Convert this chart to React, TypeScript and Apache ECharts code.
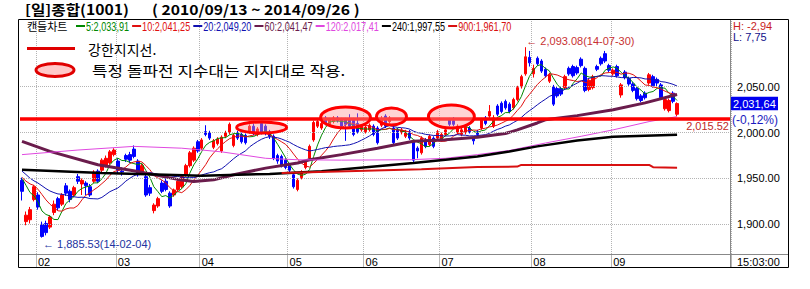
import React, { useEffect, useRef } from 'react';
import * as echarts from 'echarts';

// ---------------- data ----------------
const titleMain = '[일]종합(1001)';
const titleRange = '( 2010/09/13 ~ 2014/09/26 )';

const janDays = [24, 27, 28, 29];
const febDays = [3, 4, 5, 6, 7, 10, 11, 12, 13, 14, 17, 18, 19, 20, 21, 24, 25, 26, 27, 28];
const marDays = [3, 4, 5, 6, 7, 10, 11, 12, 13, 14, 17, 18, 19, 20, 21, 24, 25, 26, 27, 28, 31];
const aprDays = [1, 2, 3, 4, 7, 8, 9, 10, 11, 14, 15, 16, 17, 18, 21, 22, 23, 24, 25, 28, 29, 30];
const mayDays = [2, 7, 8, 9, 12, 13, 14, 15, 16, 19, 20, 21, 22, 23, 26, 27, 28, 29, 30];
const junDays = [2, 3, 5, 9, 10, 11, 12, 13, 16, 17, 18, 19, 20, 23, 24, 25, 26, 27, 30];
const julDays = [1, 2, 3, 4, 7, 8, 9, 10, 11, 14, 15, 16, 17, 18, 21, 22, 23, 24, 25, 28, 29, 30, 31];
const augDays = [1, 4, 5, 6, 7, 8, 11, 12, 13, 14, 18, 19, 20, 21, 22, 25, 26, 27, 28, 29];
const sepDays = [1, 2, 3, 4, 5, 11, 12, 15, 16, 17, 18, 19, 22, 23, 24, 25, 26];

// [open, close, low, high]
const janCandles = [[1948, 1936, 1926, 1951], [1903, 1910, 1899, 1914], [1905, 1916, 1901, 1919], [1927, 1941, 1925, 1943]];
const febCandles = [
  [1932, 1919, 1916, 1935], [1900, 1886.85, 1885.53, 1903], [1901, 1891, 1888, 1904], [1897, 1908, 1895, 1910],
  [1913, 1922, 1910, 1926], [1928, 1918, 1915, 1930], [1922, 1932, 1920, 1934], [1942, 1934, 1931, 1945],
  [1936, 1927, 1924, 1938], [1932, 1940, 1930, 1942], [1952, 1947, 1944, 1955], [1944, 1948, 1932, 1950],
  [1945, 1942, 1932, 1947], [1941, 1932, 1930, 1944], [1947, 1957, 1945, 1959], [1958, 1947, 1945, 1960],
  [1959, 1970, 1957, 1972], [1964, 1972, 1962, 1975], [1967, 1979, 1965, 1981], [1976, 1981, 1974, 1983],
];
const marCandles = [
  [1969, 1959, 1955, 1972], [1958, 1957, 1953, 1962], [1975, 1971, 1968, 1977], [1976, 1970, 1967, 1979],
  [1982, 1974, 1972, 1986], [1969, 1954, 1952, 1971], [1957, 1964, 1955, 1966], [1952, 1932, 1930, 1954],
  [1940, 1934, 1931, 1943], [1915, 1921, 1912, 1923], [1920, 1928, 1918, 1930], [1945, 1936, 1934, 1948],
  [1947, 1938, 1936, 1950], [1934, 1920, 1918, 1936], [1932, 1937.5, 1930, 1939], [1938, 1947, 1936, 1949],
  [1941, 1952, 1939, 1954], [1954, 1964, 1952, 1966], [1964, 1978, 1962, 1980], [1970, 1983, 1968, 1985],
  [1990, 1980, 1978, 1992],
];
const aprCandles = [
  [1983, 1992, 1981, 1994], [2001, 1998, 1996, 2008], [2000, 1994, 1992, 2002], [1984, 1991, 1982, 1993],
  [1988, 1993, 1986, 1995], [1980, 1995, 1978, 1997], [1996, 2000, 1994, 2002], [2000, 2009, 1998, 2011],
  [1986, 1997, 1984, 1999], [2000, 1994, 1992, 2002], [1998, 1990, 1988, 2000], [1997, 1989, 1987, 1999],
  [2001, 2007, 1999, 2009], [2007, 1999, 1997, 2010], [1998, 2004, 1996, 2006], [2010, 2000, 1998, 2012.5],
  [2007, 1999, 1997, 2009], [2001, 1996, 1993, 2003], [1996, 1972, 1970, 1998], [1975, 1969, 1966, 1977],
  [1974, 1964, 1962, 1976], [1970, 1962, 1960, 1972],
];
const mayCandles = [
  [1965, 1959, 1955, 1967], [1954, 1941, 1939, 1956], [1938, 1948, 1936, 1950], [1951, 1957, 1949, 1959],
  [1962, 1968, 1960, 1970], [1972, 1985, 1970, 1987], [1992, 2011, 1990, 2013], [2007, 2012, 2005, 2015],
  [2005, 2010, 2003, 2012], [2016, 2010, 2008, 2018], [2009, 2014, 2007, 2016], [2012, 2016, 2010, 2018],
  [2016, 2013, 2011, 2018], [2014, 2007, 2005, 2016], [2014, 2009, 1991, 2016], [2015, 2007, 2005, 2020],
  [2014, 1998, 1996, 2016], [2010, 2001, 1999, 2021], [2003, 2007, 2001, 2009],
];
const junCandles = [
  [2001, 2006, 1999, 2008], [2003, 2008, 2001, 2010], [2007, 1998, 1996, 2009], [2005, 1989, 1987, 2007],
  [2008, 2015, 2006, 2018], [2018, 2007, 2005, 2020], [2012, 2016, 2010, 2018], [2005, 1989, 1987, 2007],
  [2003, 1994, 1992, 2005], [2000, 2003, 1998, 2005], [1996, 2001, 1994, 2003], [2001, 1994, 1992, 2003],
  [1990, 1970, 1968, 1992], [1983, 1980, 1972, 1985], [1978, 1994, 1976, 1996], [1992, 1985, 1983, 1994],
  [1987, 1996, 1985, 1998], [1994, 1985, 1983, 1996], [1994, 2001, 1992, 2003],
];
const julCandles = [
  [1992, 1998, 1990, 2000], [1998, 2003, 1996, 2005], [2014, 2009, 2007, 2016], [2013, 2009, 2007, 2017],
  [2000, 2007, 1998, 2009], [1998, 2003, 1996, 2005], [2000, 2006, 1998, 2008], [2005, 2001, 1999, 2007],
  [1994, 1991, 1987, 1996], [2001, 1998, 1996, 2003], [2005, 2014, 2003, 2016], [2016, 2010, 2008, 2018],
  [2018, 2023, 2016, 2030], [2007, 2016, 2005, 2019], [2029, 2020, 2018, 2031], [2032, 2023, 2021, 2034],
  [2034, 2027, 2025, 2036], [2031, 2023, 2021, 2033], [2027, 2036, 2025, 2038], [2036, 2049, 2034, 2051],
  [2050, 2061, 2048, 2063], [2064, 2082.61, 2062, 2093.08], [2082, 2076, 2072, 2089],
];
const augCandles = [
  [2064, 2070, 2060, 2074], [2081, 2075, 2073, 2083], [2078, 2067, 2065, 2080], [2069, 2062, 2060, 2071],
  [2056, 2063, 2054, 2065], [2050, 2031, 2029, 2052], [2048, 2040, 2038, 2050], [2048, 2042, 2040, 2050],
  [2049, 2061, 2047, 2063], [2070, 2064, 2062, 2072], [2072, 2062, 2060, 2074], [2071, 2065, 2063, 2073],
  [2080, 2073, 2071, 2082], [2070, 2046, 2044, 2072], [2047, 2057, 2045, 2059], [2049, 2061, 2047, 2063],
  [2072, 2069, 2067, 2074], [2081, 2075, 2073, 2083], [2086, 2078, 2076, 2089], [2073, 2068, 2066, 2075],
];
const sepCandles = [
  [2064, 2068, 2062, 2070], [2072, 2062, 2060, 2074], [2041, 2052, 2038, 2054], [2066, 2060, 2058, 2068],
  [2059, 2053, 2051, 2061], [2053, 2046, 2044, 2055], [2048, 2037, 2035, 2050], [2040, 2035, 2033, 2042],
  [2043, 2038, 2036, 2045], [2054, 2063, 2052, 2065], [2061, 2051, 2049, 2063], [2058, 2054, 2050, 2060],
  [2052, 2038, 2036, 2054], [2026, 2036, 2024, 2038], [2024, 2035, 2022, 2037], [2043, 2034.08, 2032, 2045],
  [2020, 2031.64, 2018, 2033],
];

// closes before the first visible candle (for the short moving averages)
const priorCloses = [1985, 1995, 2000, 1967, 1946, 1953, 1959, 1958, 1947, 1939, 1951, 1946, 1958, 1960, 1945, 1949, 1955, 1960, 1952];

// long moving averages: [candle index, value]
const ma60Points = [[0, 1990.5], [7, 1979.5], [19, 1965], [29, 1957.6], [39, 1949], [43, 1946.7], [48, 1948.5], [53, 1954], [61, 1961.3], [69, 1966.8], [72, 1970.4], [80, 1976], [89, 1983], [98, 1990.5], [106, 1992.3], [114, 1995], [121, 1999], [124, 2003], [129, 2010.5], [131, 2014], [139, 2018.5], [148, 2025], [156, 2032.4], [164, 2041.47]];
const ma120Points = [[0, 1976], [14, 1981], [28, 1985], [40, 1983], [50, 1979], [61, 1972], [69, 1970.4], [80, 1970], [97, 1970.4], [106, 1972], [114, 1976], [122, 1980.5], [131, 1988.6], [140, 1996], [148, 2003], [157, 2012], [164, 2017.41]];
const ma240Points = [[0, 1959.5], [20, 1956], [45, 1953], [62, 1955], [75, 1958], [98, 1967], [114, 1974], [122, 1979.5], [129, 1985], [139, 1991.5], [148, 1995.5], [164, 1997.55]];
const ma900Points = [[65, 1956], [100, 1960], [114, 1962.5], [124, 1963], [125, 1964.8], [157, 1964.8], [158, 1962.3], [164, 1961.7]];

const maPeriods = [5, 10, 20, 60, 120, 240, 900];
const maLegendValues = ['2,033,91', '2,041,25', '2,049,20', '2,041,47', '2,017,41', '1,997,55', '1,961,70'];
const maColors = ['#008800', '#e01010', '#1010b0', '#6a1c4c', '#e048e0', '#000000', '#d81010'];
const maWidths = [1, 1, 1, 3, 1, 2.5, 2];

const yLabelValues = [1900, 1950, 2000, 2050];
const yMin = 1867.7;
const yMax = 2123.8;
const supportLevel = 2015.52;
const supportText = '2,015.52';
const lastClose = 2031.64;
const lastCloseText = '2,031,64';
const changeText = '(-0,12%)';
const highText = 'H: -2,94';
const lowText = 'L: 7,75';
const timeText = '15:03:00';
const highMark = { date: '2014-07-30', value: 2093.08, text: '← 2,093.08(14-07-30)' };
const lowMark = { date: '2014-02-04', value: 1885.53, text: '← 1,885.53(14-02-04)' };
const supportZones = [
  { from: '2014-04-14', to: '2014-04-30', low: 1999.6, high: 2011.6 },
  { from: '2014-05-16', to: '2014-06-03', low: 2005.0, high: 2027.9 },
  { from: '2014-06-09', to: '2014-06-18', low: 2008.3, high: 2026.8 },
  { from: '2014-06-26', to: '2014-07-11', low: 2005.0, high: 2030.1 },
];
const noteLine = '강한지지선.';
const noteZone = '특정 돌파전 지수대는 지지대로 작용.';
const candleName = '캔들차트';
const padCount = 13;

// ---------------- derived ----------------
const monthTable: [string, number[], number[][]][] = [
  ['2014-01', janDays, janCandles], ['2014-02', febDays, febCandles], ['2014-03', marDays, marCandles],
  ['2014-04', aprDays, aprCandles], ['2014-05', mayDays, mayCandles], ['2014-06', junDays, junCandles],
  ['2014-07', julDays, julCandles], ['2014-08', augDays, augCandles], ['2014-09', sepDays, sepCandles],
];
const dates: string[] = [];
const ohlc: number[][] = [];
monthTable.forEach(([m, days, candles]) => {
  days.forEach((d, i) => {
    dates.push(`${m}-${String(d).padStart(2, '0')}`);
    ohlc.push(candles[i]);
  });
});
const categories = [...dates];
for (let i = 0; i < padCount; i++) categories.push(`pad${i}`);

const closes = ohlc.map((d) => d[1]);
const allCloses = [...priorCloses, ...closes];
const movingAvg = (n: number) =>
  closes.map((_, i) => {
    const end = i + priorCloses.length;
    let s = 0;
    for (let k = end - n + 1; k <= end; k++) s += allCloses[k];
    return +(s / n).toFixed(2);
  });

const isMonthStart = (i: number) =>
  i > 0 && i < dates.length && dates[i].slice(5, 7) !== dates[i - 1].slice(5, 7);

const NUM = '"Liberation Sans", "DejaVu Sans", Arial, sans-serif';
const KO = '"Noto Sans CJK KR", "Noto Sans", sans-serif';

const maData = [movingAvg(5), movingAvg(10), movingAvg(20), ma60Points, ma120Points, ma240Points, ma900Points];

const fmt = (v: number) => v.toLocaleString('en-US', { minimumFractionDigits: 2, maximumFractionDigits: 2 });

const option: any = {
  animation: false,
  backgroundColor: '#ffffff',
  grid: { left: 20, right: 79, top: 19, bottom: 35, containLabel: false },
  xAxis: {
    type: 'category',
    data: categories,
    boundaryGap: true,
    axisLine: { show: false },
    axisTick: { show: true, interval: (i: number) => isMonthStart(i), length: 14, lineStyle: { color: '#b8b8b8' } },
    axisLabel: {
      interval: (i: number) => isMonthStart(i),
      formatter: (v: string) => v.slice(5, 7),
      align: 'left',
      margin: 2,
      lineHeight: 12,
      fontSize: 11,
      fontFamily: NUM,
      color: '#000',
    },
    splitLine: { show: true, interval: (i: number) => isMonthStart(i), lineStyle: { type: 'dotted', color: '#b4b4b4', width: 1 } },
  },
  yAxis: {
    type: 'value',
    position: 'right',
    min: yMin,
    max: yMax,
    splitNumber: 5,
    axisLine: { show: false },
    axisTick: { show: false },
    splitLine: { show: false },
    axisLabel: {
      showMinLabel: false,
      showMaxLabel: false,
      margin: 6,
      fontSize: 11,
      fontFamily: NUM,
      color: '#000',
      formatter: (v: number) => (yLabelValues.includes(Math.round(v)) ? fmt(Math.round(v)) : ''),
    },
  },
  series: [
    {
      type: 'line',
      name: 'grid',
      data: [],
      silent: true,
      z: 1,
      markLine: {
        silent: true,
        symbol: ['none', 'none'],
        label: { show: false },
        lineStyle: { type: 'dotted', color: '#b4b4b4', width: 1 },
        data: yLabelValues.map((v) => ({ yAxis: v })),
      },
    },
    {
      type: 'candlestick',
      name: candleName,
      data: ohlc,
      barWidth: 3,
      z: 2,
      silent: true,
      itemStyle: { color: '#ff0000', color0: '#0000ff', borderColor: '#ff0000', borderColor0: '#0000ff', borderWidth: 1 },
      markLine: {
        silent: true,
        symbol: ['none', 'none'],
        label: { show: false },
        lineStyle: { color: '#ff0000', width: 3.5, type: 'solid' },
        data: [{ yAxis: supportLevel }],
      },
    },
    ...maPeriods.map((p, k) => ({
      type: 'line',
      name: `MA${p}`,
      data: maData[k],
      symbol: 'none',
      showSymbol: false,
      silent: true,
      z: 3,
      lineStyle: { color: maColors[k], width: maWidths[k] },
      itemStyle: { color: maColors[k] },
    })),
  ],
};

function buildGraphics(chart: any) {
  const toPx = (d: string | number, v: number) =>
    chart.convertToPixel({ xAxisIndex: 0, yAxisIndex: 0 }, [d, v]) as number[];
  const cv = document.createElement('canvas').getContext('2d') as CanvasRenderingContext2D;
  const measure = (t: string, font: string) => {
    cv.font = font;
    return cv.measureText(t).width;
  };
  const text = (t: string, x: number, y: number, fill: string, font: string, align = 'left', extra: any = {}) => ({
    type: 'text',
    x,
    y,
    silent: true,
    z: 100,
    ...extra,
    style: { text: t, fill, font, textAlign: align, textVerticalAlign: 'middle', align, verticalAlign: 'middle' },
  });
  const line = (x1: number, y1: number, x2: number, y2: number, stroke: string, lineWidth = 1, z = 95) => ({
    type: 'line',
    silent: true,
    z,
    shape: { x1, y1, x2, y2 },
    style: { stroke, lineWidth },
  });
  const els: any[] = [];

  // title
  els.push(text(titleMain, 25, 9, '#000', `bold 14px ${KO}`, 'left', { scaleX: 1.12 }));
  els.push(text(titleRange, 152, 9, '#000', `bold 14px ${KO}`, 'left', { scaleX: 1.12 }));

  // frame
  els.push({ type: 'rect', silent: true, z: 96, shape: { x: 18.5, y: 19.5, width: 770, height: 248 }, style: { fill: 'none', stroke: '#000', lineWidth: 1 } });
  els.push(line(730.5, 19.5, 730.5, 267.5, '#888888'));
  els.push(line(18.5, 254.5, 788.5, 254.5, '#888888'));

  // legend row
  const legY = 26;
  els.push(text(candleName, 27, legY, '#000', `11px ${KO}`));
  const legFont = `12px ${NUM}`;
  const legScale = 0.76;
  let lx = 76;
  maPeriods.forEach((p, k) => {
    const label = `${p}:${maLegendValues[k]}`;
    els.push(line(lx, legY, lx + 9, legY, maColors[k], 2, 100));
    els.push(text(label, lx + 10, legY, maColors[k], legFont, 'left', { scaleX: legScale }));
    lx += 10 + measure(label, legFont) * legScale + 3;
  });

  // annotation legend
  els.push(line(27, 48.5, 75, 48.5, '#e00000', 3, 100));
  els.push(text(noteLine, 88, 49, '#000', `14px ${KO}`));
  els.push({ type: 'ellipse', silent: true, z: 100, shape: { cx: 55, cy: 70, rx: 19, ry: 6.5 }, style: { fill: '#ffc8c8', stroke: '#e00000', lineWidth: 3 } });
  els.push(text(noteZone, 92, 70, '#000', `14px ${KO}`, 'left', { scaleX: 1.21 }));

  // support zones (ellipses)
  supportZones.forEach((zn) => {
    const a = toPx(zn.from, zn.high);
    const b = toPx(zn.to, zn.low);
    els.push({
      type: 'ellipse',
      silent: true,
      z: 50,
      shape: { cx: (a[0] + b[0]) / 2, cy: (a[1] + b[1]) / 2, rx: (b[0] - a[0]) / 2 + 1, ry: (b[1] - a[1]) / 2 },
      style: { fill: 'rgba(255,150,150,0.42)', stroke: '#ff0000', lineWidth: 3 },
    });
  });

  // high / low annotations
  const hp = toPx(highMark.date, highMark.value);
  els.push(text(highMark.text, hp[0] + 1, hp[1] - 6, '#c83232', `11px ${NUM}`));
  const lp = toPx(lowMark.date, lowMark.value);
  els.push(text(lowMark.text, lp[0] + 1, lp[1] + 6.5, '#2234a0', `11px ${NUM}`));

  // support level value
  const sp = toPx(dates[0], supportLevel);
  els.push(text(supportText, 729, sp[1] + 8, '#c02828', `11px ${NUM}`, 'right'));

  // last price box
  const cp = toPx(dates[0], lastClose);
  els.push({ type: 'rect', silent: true, z: 99, shape: { x: 731, y: cp[1] - 6.7, width: 47, height: 13.4 }, style: { fill: '#0000f0' } });
  els.push(text(lastCloseText, 733, cp[1], '#ffffff', `11px ${NUM}`));
  els.push(text(changeText, 732, cp[1] + 16, '#1a1ac0', `12px ${NUM}`));

  // H / L and time
  els.push(text(highText, 733, 25.7, '#c81e1e', `11px ${NUM}`));
  els.push(text(lowText, 733, 36.7, '#10108a', `11px ${NUM}`));
  els.push(text(timeText, 737, 261.7, '#000', `11px ${NUM}`));

  return els;
}

export default function App() {
  const ref = useRef<HTMLDivElement>(null);
  useEffect(() => {
    const el = ref.current as HTMLDivElement;
    const chart = echarts.init(el, null, { renderer: 'svg' });
    chart.setOption(option);
    chart.setOption({ graphic: { elements: buildGraphics(chart) } });
    return () => chart.dispose();
  }, []);
  return (
    <div
      ref={ref}
      style={{ position: 'fixed', left: 0, top: 0, width: 810, height: 289, background: '#ffffff' }}
    />
  );
}
